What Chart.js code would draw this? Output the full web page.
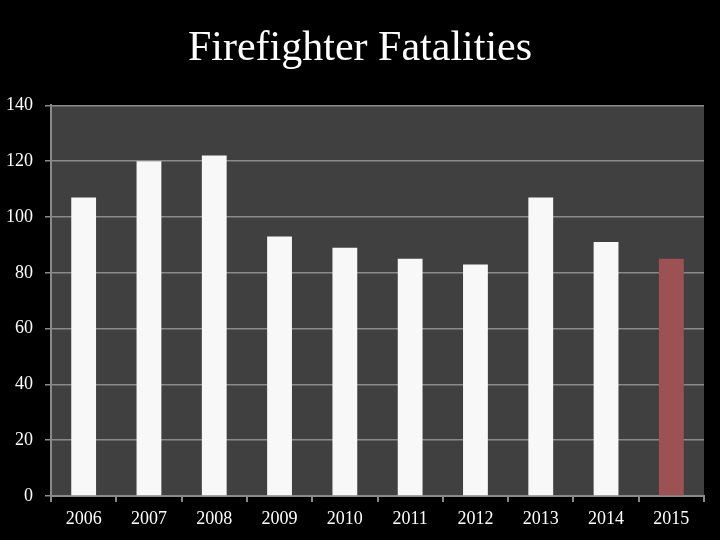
<!DOCTYPE html>
<html>
<head>
<meta charset="utf-8">
<script src="https://cdn.jsdelivr.net/npm/chart.js@4"></script>
<style>
  html, body { margin: 0; padding: 0; background: #000; }
  #wrap { width: 720px; height: 540px; }
</style>
</head>
<body>
<div id="wrap"><canvas id="chart"></canvas></div>
<script>
// -- data ---------------------------------------------------------------
const years = ['2006', '2007', '2008', '2009', '2010', '2011', '2012', '2013', '2014', '2015'];
const fatalities = [107, 120, 122, 93, 89, 85, 83, 107, 91, 85];
const barColors = ['#f8f8f8', '#f8f8f8', '#f8f8f8', '#f8f8f8', '#f8f8f8',
                   '#f8f8f8', '#f8f8f8', '#f8f8f8', '#f8f8f8', '#9c5252'];

const SERIF = "'Liberation Serif', 'DejaVu Serif', serif";
const AXIS = '#8a8a8a';

// dark fill behind the plot area only
const plotBg = {
  id: 'plotBg',
  beforeDraw(chart) {
    const a = chart.chartArea, ctx = chart.ctx;
    ctx.save();
    ctx.fillStyle = '#404040';
    ctx.fillRect(a.left, a.top, a.right - a.left, a.bottom - a.top);
    ctx.restore();
  },
};

new Chart(document.getElementById('chart'), {
  type: 'bar',
  data: {
    labels: years,
    datasets: [{
      data: fatalities,
      backgroundColor: barColors,
      borderWidth: 0,
      barPercentage: 0.38,
      categoryPercentage: 1,
    }],
  },
  options: {
    responsive: true,
    maintainAspectRatio: false,
    animation: false,
    devicePixelRatio: 1,
    layout: { padding: 0 },
    plugins: {
      legend: { display: false },
      tooltip: { enabled: false },
      title: {
        display: true,
        text: 'Firefighter Fatalities',
        color: '#ffffff',
        font: { family: SERIF, size: 42, weight: 'normal' },
        padding: { top: 24, bottom: 31 },
      },
    },
    scales: {
      x: {
        grid: { drawOnChartArea: false, drawTicks: true, tickLength: 6, color: AXIS, lineWidth: 2 },
        border: { color: AXIS, width: 2 },
        ticks: { color: '#ffffff', font: { family: SERIF, size: 18 }, padding: 6, maxRotation: 0 },
        afterFit(s) { s.height = 44; },
      },
      y: {
        min: 0,
        max: 140,
        grid: { color: AXIS, lineWidth: 1.5, tickLength: 6 },
        border: { color: AXIS, width: 2 },
        ticks: { stepSize: 20, color: '#ffffff', font: { family: SERIF, size: 18 }, padding: 12 },
        afterFit(s) { s.width = 51; },
      },
      // empty spacer on the right so the title stays centred on the page
      spacer: {
        type: 'linear',
        position: 'right',
        grid: { display: false },
        border: { display: false },
        ticks: { display: false },
        afterFit(s) { s.width = 16; },
      },
    },
  },
  plugins: [plotBg],
});
</script>
</body>
</html>
